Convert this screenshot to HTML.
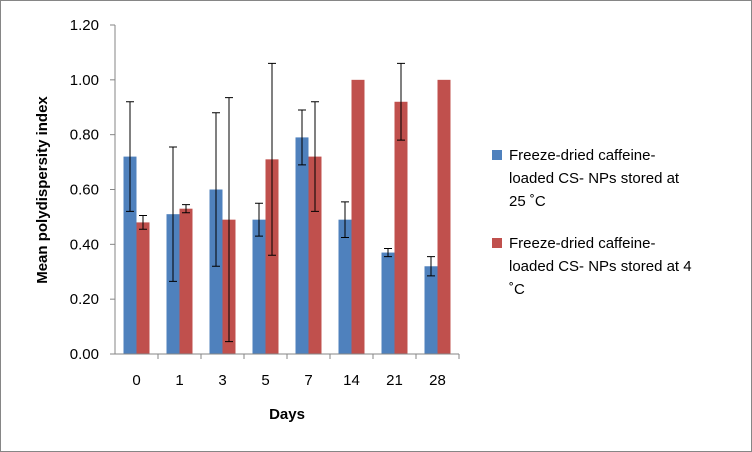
<!DOCTYPE html>
<html><head><meta charset="utf-8"><style>
body{margin:0;background:#fff}
svg{display:block;font-family:"Liberation Sans",sans-serif}
</style></head><body>
<svg id="c" width="752" height="452">
<rect x="0.5" y="0.5" width="751" height="451" fill="#fff" stroke="#868686"/>
<g id="g"></g>
</svg>
<script>
const categories=["0","1","3","5","7","14","21","28"];
const blueValues=[0.72,0.51,0.60,0.49,0.79,0.49,0.37,0.32];
const blueErrors=[0.20,0.245,0.28,0.06,0.10,0.065,0.015,0.035];
const redValues=[0.48,0.53,0.49,0.71,0.72,1.00,0.92,1.00];
const redErrors=[0.025,0.015,0.445,0.35,0.20,0,0.14,0];
const yTicks=["0.00","0.20","0.40","0.60","0.80","1.00","1.20"];
const legendLabels=[["Freeze-dried caffeine-","loaded CS- NPs  stored at","25 ˚C"],["Freeze-dried caffeine-","loaded CS- NPs stored at 4","˚C"]];
const NS="http://www.w3.org/2000/svg";
const g=document.getElementById('g');
const x0=115,x1=459,y0=354,y1=25;
const step=(x1-x0)/categories.length,bw=13;
const y=v=>y0-(v/1.2)*(y0-y1);
const cx=i=>x0+step*(i+0.5);
function el(t,a,txt){const e=document.createElementNS(NS,t);for(const k in a)e.setAttribute(k,a[k]);if(txt!=null)e.textContent=txt;g.appendChild(e);return e;}
yTicks.forEach((t,i)=>{const v=parseFloat(t);
const l=el('line',{x1:x0-5,x2:x0,y1:y(v),y2:y(v),stroke:'#868686'});

const tx=el('text',{x:99,y:y(v)+5,'text-anchor':'end','font-size':15},t);
});
function bars(vals,errs,off,color,name){vals.forEach((v,i)=>{const bx=cx(i)+off;
const r=el('rect',{x:bx,y:y(v),width:bw,height:y0-y(v),fill:color});

const e=errs[i];if(e>0){const m=bx+bw/2;
const p=el('path',{d:`M${m},${y(v+e)}V${y(v-e)}M${m-4},${y(v+e)}h8M${m-4},${y(v-e)}h8`,stroke:'#000','stroke-width':1,fill:'none'});
}});}
bars(blueValues,blueErrors,-bw,'#4f81bd','blue');
bars(redValues,redErrors,0,'#c0504d','red');
const ax=el('path',{d:`M${x0},${y1}V${y0}H${x1}`,stroke:'#868686',fill:'none'});

categories.forEach((c,i)=>{const tk=el('line',{x1:x0+step*(i+1),x2:x0+step*(i+1),y1:y0,y2:y0+5,stroke:'#868686'});

const t=el('text',{x:cx(i),y:y0+31,'text-anchor':'middle','font-size':15},c);
});
const xt=el('text',{x:287,y:419,'text-anchor':'middle','font-size':15,'font-weight':'bold'},'Days');

const yt=el('text',{x:0,y:0,'text-anchor':'middle','font-size':15,'font-weight':'bold',transform:`translate(47,190) rotate(-90)`},'Mean polydispersity index');

const colors=['#4f81bd','#c0504d'];const ly=[150,238];
legendLabels.forEach((lines,k)=>{const s=el('rect',{x:492,y:ly[k],width:10,height:10,fill:colors[k]});

lines.forEach((ln,j)=>{const t=el('text',{x:509,y:ly[k]+10+j*23,'font-size':15},ln);
});});
</script>
</body></html>
